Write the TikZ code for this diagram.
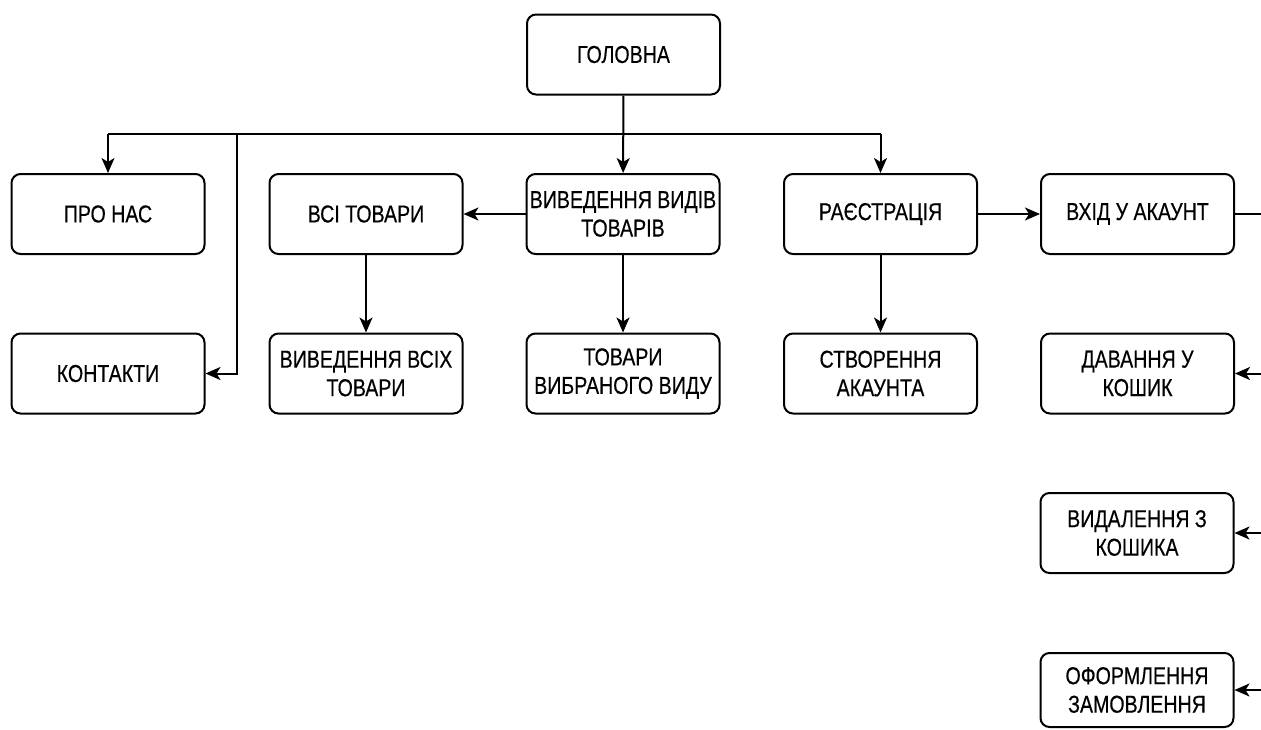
\documentclass[tikz,border=0pt]{standalone}
\usepackage{fontspec}
\newfontfamily\lbl{Liberation Sans}[FakeStretch=0.8,FakeBold=0.4]
\usetikzlibrary{arrows.meta}
\tikzset{
  box/.style={draw, line width=2pt, rounded corners=9pt, minimum width=193pt, minimum height=80pt,
    inner sep=0pt, align=center, font=\lbl\fontsize{24.5pt}{28.5pt}\selectfont},
  link/.style={line width=2pt},
  arr/.style={line width=2pt, -{Stealth[length=15pt,width=13pt,inset=4pt]}}
}
\begin{document}
\begin{tikzpicture}[x=1pt,y=-1pt]
\useasboundingbox (0,0) rectangle (1261,729);
\node[box] (golovna) at (623.5,54.5) {ГОЛОВНА};
\node[box] (pronas) at (108,214) {ПРО НАС};
\node[box] (kontakty) at (108,373.5) {КОНТАКТИ};
\node[box] (vsi) at (366,214) {ВСІ ТОВАРИ};
\node[box] (vyvvsih) at (366,373.5) {ВИВЕДЕННЯ ВСІХ\\ТОВАРИ};
\node[box] (vyvvydiv) at (623,214) {ВИВЕДЕННЯ ВИДІВ\\ТОВАРІВ};
\node[box] (tovvybr) at (623,373.5) {ТОВАРИ\\ВИБРАНОГО ВИДУ};
\node[box] (reestr) at (880.5,214) {РАЄСТРАЦІЯ};
\node[box] (stvor) at (880.5,373.5) {СТВОРЕННЯ\\АКАУНТА};
\node[box] (vhid) at (1137.5,214) {ВХІД У АКАУНТ};
\node[box] (davan) at (1137.5,373.5) {ДАВАННЯ У\\КОШИК};
\node[box] (vydal) at (1137,533) {ВИДАЛЕННЯ З\\КОШИКА};
\node[box, minimum height=74pt] (oform) at (1137,690) {ОФОРМЛЕННЯ\\ЗАМОВЛЕННЯ};
\coordinate (hl) at (623,134);
\coordinate (kv) at (237,134);
\coordinate (re) at (1261,0);
\draw[arr] (golovna) -- (vyvvydiv);
\draw[link] (pronas.north |- hl) -- (reestr.north |- hl);
\draw[arr] (pronas.north |- hl) -- (pronas.north);
\draw[arr] (reestr.north |- hl) -- (reestr.north);
\draw[arr] (kv) |- (kontakty.east);
\draw[arr] (vyvvydiv) -- (vsi);
\draw[arr] (vsi) -- (vyvvsih);
\draw[arr] (vyvvydiv) -- (tovvybr);
\draw[arr] (reestr) -- (vhid);
\draw[arr] (reestr) -- (stvor);
\draw[link] (vhid.east) -- (vhid.east -| re);
\draw[arr] (davan.east -| re) -- (davan.east);
\draw[arr] (vydal.east -| re) -- (vydal.east);
\draw[arr] (oform.east -| re) -- (oform.east);
\end{tikzpicture}
\end{document}
